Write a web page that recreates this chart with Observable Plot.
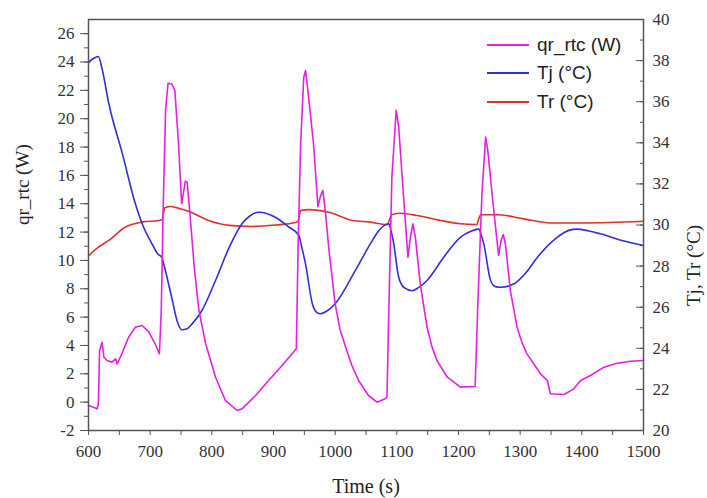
<!DOCTYPE html>
<html>
<head>
<meta charset="utf-8">
<script src="https://cdn.jsdelivr.net/npm/d3@7"></script>
<script src="https://cdn.jsdelivr.net/npm/@observablehq/plot@0.6"></script>
<style>
  html, body { margin: 0; padding: 0; background: #fff; }
  #wrap { position: relative; width: 707px; height: 498px; }
  #wrap svg, #wrap svg text { font-family: "Liberation Serif", "Times New Roman", serif !important; }
  .leg { position: absolute; left: 487px; font-family: "Liberation Sans", Arial, sans-serif; font-size: 19px; color: #222; }
  .leg .row { position: absolute; left: 0; height: 28px; display: flex; align-items: center; white-space: nowrap; }
  .leg .sw { width: 42px; height: 2px; margin-right: 8px; }
</style>
</head>
<body>
<div id="wrap"></div>
<script>
// ---- data ----
const qrTime = [600,608,614,616,618,620,622,625,630,638,644,646.5,654,665,676,687,698,708,715,718,721,725,729,735,740,746,751,753,757,760,765,771,779,790,806,822,841,849,871,892,914,937,940,944,949,952,957,965,972,976,980,984,990,1000,1008,1017,1027,1038,1054,1068,1081,1084,1087,1092,1099,1103,1111,1118,1122,1126,1130,1138,1149,1157,1165,1182,1203,1227,1231,1238,1244,1247.5,1255,1265,1269,1272.5,1276,1284,1295,1303,1311,1333,1344,1349,1371,1387,1398,1414,1436,1457,1479,1500];
const qrValue = [-0.24,-0.36,-0.47,-0.1,3.65,3.9,4.23,3.17,2.94,2.82,3.06,2.7,3.41,4.58,5.29,5.41,4.94,4.12,3.41,6.47,13.5,20.6,22.5,22.45,22.0,18.2,14.0,14.5,15.6,15.5,13.05,9.76,6.47,4.12,1.76,0.12,-0.59,-0.47,0.47,1.53,2.59,3.77,11.2,18.2,22.9,23.4,21.5,18.2,13.8,14.5,14.94,13.5,10.7,6.94,5.1,3.88,2.6,1.53,0.47,0.0,0.24,0.35,6.47,15.9,20.6,19.4,14.46,10.23,11.64,12.58,11.64,8.35,5.29,3.9,2.94,1.76,1.06,1.1,6.47,14.7,18.7,17.76,14.46,10.35,11.4,11.83,11.18,7.88,5.29,4.2,3.41,2.0,1.53,0.59,0.54,0.94,1.53,1.88,2.47,2.75,2.89,2.94];

const tjTime = [600,608,616,622,633,655,676,687,703,712,719,722,736,744,751,760,768,784,806,828,849,862,876,890,903,925,941,946,952,963,970,976,986,1000,1033,1057,1070,1087,1090,1095,1103,1112,1125,1135,1149,1176,1203,1220,1233,1237,1241,1252,1260,1268,1290,1310,1328,1360,1380,1392,1410,1430,1465,1500];
const tjValue = [37.9,38.1,38.2,37.6,35.9,33.46,31.03,30.06,29.08,28.6,28.43,28.1,26.33,25.3,24.9,24.95,25.19,25.84,27.3,28.9,30.06,30.45,30.62,30.55,30.38,29.9,29.5,28.9,28.1,26.17,25.75,25.68,25.8,26.17,27.8,29.08,29.7,30.06,29.8,29.08,27.46,26.95,26.8,26.95,27.3,28.43,29.4,29.7,29.8,29.5,29.08,27.3,27.0,26.97,27.14,27.7,28.43,29.4,29.75,29.8,29.72,29.57,29.25,29.0];

const trTime = [600,615,633,660,687,714,719,724,733,745,763,795,828,865,903,936,940,944,957,990,1028,1057,1084,1092,1106,1133,1171,1203,1229,1236,1263,1306,1349,1403,1500];
const trValue = [28.5,28.9,29.25,29.9,30.14,30.22,30.25,30.84,30.9,30.82,30.66,30.22,29.98,29.93,30.0,30.12,30.2,30.7,30.75,30.62,30.22,30.14,30.02,30.5,30.57,30.46,30.22,30.06,30.02,30.5,30.5,30.3,30.1,30.1,30.18];

const xTickLabels = [600,700,800,900,1000,1100,1200,1300,1400,1500];
const leftTickLabels = [-2,0,2,4,6,8,10,12,14,16,18,20,22,24,26];
const rightTickLabels = [20,22,24,26,28,30,32,34,36,38,40];
const seriesNames = ["qr_rtc (W)", "Tj (°C)", "Tr (°C)"];
const seriesColors = ["#e61ee6", "#2f2fe0", "#e0302a"];

// ---- scales: left axis in W, right axis in °C mapped onto the left scale ----
const leftDomain = [-2, 27];
const rightDomain = [20, 40];
const toLeft = t => leftDomain[0] + (t - rightDomain[0]) * (leftDomain[1] - leftDomain[0]) / (rightDomain[1] - rightDomain[0]);
const fromLeft = v => rightDomain[0] + (v - leftDomain[0]) * (rightDomain[1] - rightDomain[0]) / (leftDomain[1] - leftDomain[0]);

const qr = qrTime.map((t, i) => ({t, v: qrValue[i]}));
const tj = tjTime.map((t, i) => ({t, v: tjValue[i]}));
const tr = trTime.map((t, i) => ({t, v: trValue[i]}));

const serif = "Liberation Serif";
const axisColor = "#555";
const textColor = "#333";
const minorX = d3.range(600, 1501, 50);
const minorLeft = d3.range(-2, 27, 1);
const minorRight = d3.range(20, 41, 1).map(toLeft);

const chart = Plot.plot({
  width: 707,
  height: 498,
  marginTop: 19,
  marginBottom: 68,
  marginLeft: 88,
  marginRight: 64,
  style: {fontSize: "17px", color: textColor, background: "transparent"},
  x: {domain: [600, 1500]},
  y: {domain: leftDomain},
  marks: [
    // x axis
    Plot.axisX({ticks: minorX, tickSize: 5, fill: "none", stroke: axisColor, label: null}),
    Plot.axisX({ticks: xTickLabels, tickSize: 0, tickPadding: 14, tickFormat: d => String(d), fill: textColor, fontFamily: serif, fontSize: 17, fontVariant: "normal", label: null}),
    // left axis
    Plot.axisY({ticks: minorLeft, anchor: "left", tickSize: 4, fill: "none", stroke: axisColor, label: null}),
    Plot.axisY({ticks: leftTickLabels, anchor: "left", tickSize: 8, tickPadding: 6, tickFormat: d => String(d), fill: textColor, stroke: axisColor, fontFamily: serif, fontSize: 17, fontVariant: "normal", label: null}),
    // right axis (ticks inside)
    Plot.axisY({ticks: minorRight, anchor: "right", tickSize: 4, dx: -4, fill: "none", stroke: axisColor, label: null}),
    Plot.axisY({ticks: rightTickLabels.map(toLeft), anchor: "right", tickSize: 8, dx: -8, fill: "none", stroke: axisColor, label: null}),
    Plot.axisY({ticks: rightTickLabels.map(toLeft), anchor: "right", tickSize: 0, tickPadding: 9, tickFormat: d => String(Math.round(fromLeft(d))), fill: textColor, fontFamily: serif, fontSize: 17, fontVariant: "normal", label: null}),
    // axis titles
    Plot.text(["Time (s)"], {frameAnchor: "bottom", dy: 56, fontSize: 20, fontFamily: serif, fill: "#222", lineAnchor: "middle"}),
    Plot.text(["qr_rtc (W)"], {frameAnchor: "left", dx: -66, rotate: -90, fontSize: 19, fontFamily: serif, fill: "#222", lineAnchor: "middle"}),
    Plot.text(["Tj, Tr (°C)"], {frameAnchor: "right", dx: 50, rotate: -90, fontSize: 19, fontFamily: serif, fill: "#222", lineAnchor: "middle"}),
    // series
    Plot.line(tr, {x: "t", y: d => toLeft(d.v), stroke: seriesColors[2], strokeWidth: 1.6, curve: "monotone-x"}),
    Plot.line(tj, {x: "t", y: d => toLeft(d.v), stroke: seriesColors[1], strokeWidth: 1.6, curve: "monotone-x"}),
    Plot.line(qr, {x: "t", y: "v", stroke: seriesColors[0], strokeWidth: 1.6}),
    Plot.frame({stroke: axisColor, strokeWidth: 1.5})
  ]
});

const wrap = document.getElementById("wrap");
wrap.appendChild(chart);
d3.select(chart).selectAll("text").attr("font-family", "Liberation Serif");

// legend
const leg = document.createElement("div");
leg.className = "leg";
leg.style.top = "31px";
seriesNames.forEach((name, i) => {
  const row = document.createElement("div");
  row.className = "row";
  row.style.top = (i * 28.3) + "px";
  const sw = document.createElement("span");
  sw.className = "sw";
  sw.style.background = seriesColors[i];
  const tx = document.createElement("span");
  tx.textContent = name;
  row.appendChild(sw);
  row.appendChild(tx);
  leg.appendChild(row);
});
wrap.appendChild(leg);
</script>
</body>
</html>
